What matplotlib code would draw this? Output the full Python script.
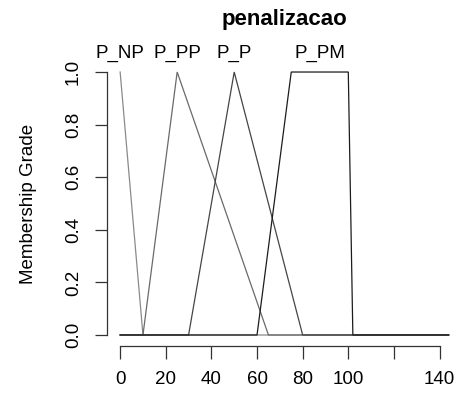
import numpy as np
import matplotlib
matplotlib.use("Agg")
import matplotlib.pyplot as plt

# Conjuntos fuzzy da variavel "penalizacao"
universo = [0, 144]
nomes = ['P_NP', 'P_PP', 'P_P', 'P_PM']
pontos_x = [
    [0, 10, 144],
    [0, 10, 25, 65, 144],
    [0, 30, 50, 80, 144],
    [0, 60, 75, 100, 102, 144],
]
pontos_y = [
    [1, 0, 0],
    [0, 0, 1, 0, 0],
    [0, 0, 1, 0, 0],
    [0, 0, 1, 1, 0, 0],
]
pos_rotulo = [0, 25, 50, 87.5]
cores = ['#8a8a8a', '#6a6a6a', '#454545', '#1c1c1c']

x_ticks = [0, 20, 40, 60, 80, 100, 120, 140]
x_labels = ['0', '20', '40', '60', '80', '100', '', '140']
y_ticks = [0.0, 0.2, 0.4, 0.6, 0.8, 1.0]

plt.rcParams['font.family'] = ['Liberation Sans', 'DejaVu Sans']

fig = plt.figure(figsize=(4.62, 3.96), dpi=100)
ax = fig.add_axes([0.2316, 0.1275, 0.768, 0.7172])

for xs, ys, cor in zip(pontos_x, pontos_y, cores):
    ax.plot(xs, ys, color=cor, lw=0.9, solid_joinstyle='miter')

for nome, px in zip(nomes, pos_rotulo):
    ax.text(px, 1.053, nome, ha='center', va='baseline', fontsize=13.5,
            clip_on=False)

pad = 0.04 * (universo[1] - universo[0])
ax.set_xlim(universo[0] - pad, universo[1] + pad)
ax.set_ylim(-0.04, 1.04)

ax.spines['top'].set_visible(False)
ax.spines['right'].set_visible(False)
ax.spines['left'].set_bounds(0, 1)
ax.spines['bottom'].set_bounds(0, 140)
for s in ['left', 'bottom']:
    ax.spines[s].set_linewidth(0.9)
    ax.spines[s].set_color('#333333')

ax.set_xticks(x_ticks)
ax.set_xticklabels(x_labels)
ax.set_yticks(y_ticks)
ax.set_yticklabels([f'{v:.1f}' for v in y_ticks], rotation=90, va='center')
ax.tick_params(axis='both', length=9, width=0.9, color='#333333',
               labelsize=13.5, pad=9)

ax.set_ylabel('Membership Grade', fontsize=13.5, labelpad=20)
ax.set_title('penalizacao', fontsize=16, fontweight='bold', pad=26)

fig.savefig('out.png', dpi=100)
